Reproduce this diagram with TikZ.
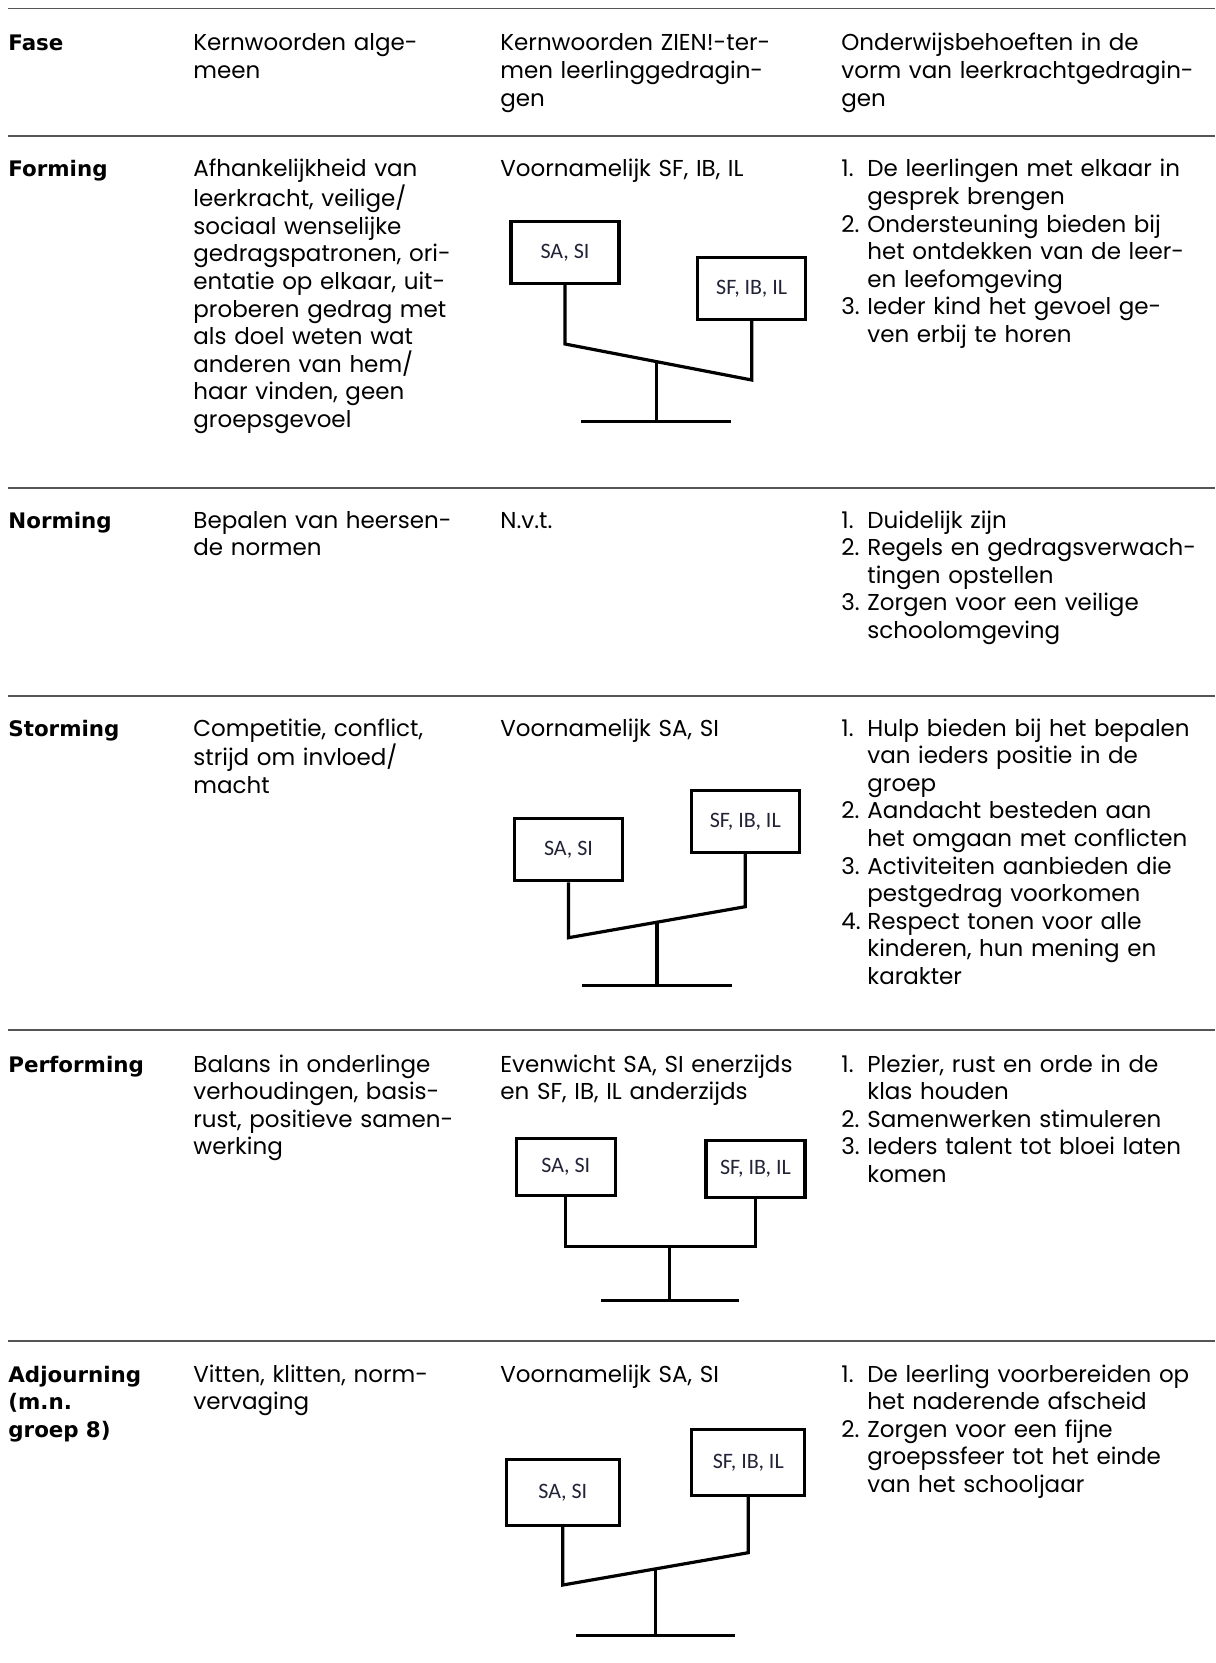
\documentclass[tikz,border=0pt]{standalone}
\usepackage{fontspec}
\setmainfont{Poppins}
\newfontfamily\kopfont{DejaVu Sans}
\newfontfamily\bakfont{Carlito}
\usetikzlibrary{calc}
\definecolor{lijngrijs}{RGB}{85,85,85}
\definecolor{bakinkt}{RGB}{35,35,55}
\newcommand{\nr}[1]{\makebox[13pt][l]{#1.}}
\newcommand{\ins}{\hspace*{13pt}}

\begin{document}
\begin{tikzpicture}[x=0.5pt, y=-0.5pt,
    regel/.style={lijngrijs, line width=0.8pt},
    fasetekst/.style={anchor=base west, inner sep=0pt, text width=90pt, align=left, font=\kopfont\bfseries\fontsize{10.7}{13.8}\selectfont},
    celtekst/.style={anchor=base west, inner sep=0pt, text width=185pt, align=left, font=\fontsize{11.5}{13.8}\selectfont},
    bak/.style={draw, line width=1.6pt, fill=white, inner sep=0pt, minimum width=54pt, minimum height=31pt, font=\bakfont\fontsize{11}{13}\selectfont, text=bakinkt},
    balk/.style={line width=1.6pt}]
    \useasboundingbox (0,0) rectangle (1215,1663);
    \foreach \y in {8.5,136,488,696,1030,1341}
        \draw[regel] (8,\y) -- (1215,\y);

    \node[fasetekst] (fase) at (8,51) {Fase};
    \node[celtekst] (kop2) at (193,51) {Kernwoorden alge-\\meen};
    \node[celtekst] (kop3) at (500,51) {Kernwoorden ZIEN!-ter-\\men leerlinggedragin-\\gen};
    \node[celtekst] (kop4) at (841,51) {Onderwijsbehoeften in de\\vorm van leerkrachtgedragin-\\gen};

    \node[fasetekst] (forming) at (8,177) {Forming};
    \node[celtekst] (forming2) at (193,177) {Afhankelijkheid van\\leerkracht, veilige/\\sociaal wenselijke\\gedragspatronen, ori-\\entatie op elkaar, uit-\\proberen gedrag met\\als doel weten wat\\anderen van hem/\\haar vinden, geen\\groepsgevoel};
    \node[celtekst] (forming3) at (500,177) {Voornamelijk SF, IB, IL};
    \node[celtekst] (forming4) at (841,177) {\nr{1}De leerlingen met elkaar in\\\ins gesprek brengen\\\nr{2}Ondersteuning bieden bij\\\ins het ontdekken van de leer-\\\ins en leefomgeving\\\nr{3}Ieder kind het gevoel ge-\\\ins ven erbij te horen};

    \node[fasetekst] (norming) at (8,528) {Norming};
    \node[celtekst] (norming2) at (193,528) {Bepalen van heersen-\\de normen};
    \node[celtekst] (norming3) at (500,528) {N.v.t.};
    \node[celtekst] (norming4) at (841,528) {\nr{1}Duidelijk zijn\\\nr{2}Regels en gedragsverwach-\\\ins tingen opstellen\\\nr{3}Zorgen voor een veilige\\\ins schoolomgeving};

    \node[fasetekst] (storming) at (8,736) {Storming};
    \node[celtekst] (storming2) at (193,736) {Competitie, conflict,\\strijd om invloed/\\macht};
    \node[celtekst] (storming3) at (500,736) {Voornamelijk SA, SI};
    \node[celtekst] (storming4) at (841,736) {\nr{1}Hulp bieden bij het bepalen\\\ins van ieders positie in de\\\ins groep\\\nr{2}Aandacht besteden aan\\\ins het omgaan met conflicten\\\nr{3}Activiteiten aanbieden die\\\ins pestgedrag voorkomen\\\nr{4}Respect tonen voor alle\\\ins kinderen, hun mening en\\\ins karakter};

    \node[fasetekst] (performing) at (8,1072) {Performing};
    \node[celtekst] (performing2) at (193,1072) {Balans in onderlinge\\verhoudingen, basis-\\rust, positieve samen-\\werking};
    \node[celtekst] (performing3) at (500,1072) {Evenwicht SA, SI enerzijds\\en SF, IB, IL anderzijds};
    \node[celtekst] (performing4) at (841,1072) {\nr{1}Plezier, rust en orde in de\\\ins klas houden\\\nr{2}Samenwerken stimuleren\\\nr{3}Ieders talent tot bloei laten\\\ins komen};

    \node[fasetekst] (adjourning) at (8,1382) {Adjourning\\(m.n.\\groep 8)};
    \node[celtekst] (adjourning2) at (193,1382) {Vitten, klitten, norm-\\vervaging};
    \node[celtekst] (adjourning3) at (500,1382) {Voornamelijk SA, SI};
    \node[celtekst] (adjourning4) at (841,1382) {\nr{1}De leerling voorbereiden op\\\ins het naderende afscheid\\\nr{2}Zorgen voor een fijne\\\ins groepssfeer tot het einde\\\ins van het schooljaar};

    % weegschaal forming
    \node[bak] (fl) at (565,252.5) {SA, SI};
    \node[bak] (fr) at (751.7,288.3) {SF, IB, IL};
    \coordinate (fa) at (565,344);
    \coordinate (fb) at (751.7,380);
    \draw[balk] (fl.south) -- (fa) -- (fb) -- (fr.south);
    \coordinate (fp) at ($(fa)!0.49!(fb)$);
    \draw[balk] (fp) -- ++(0,60) coordinate (fv);
    \draw[balk] ($(fv)+(-75,0)$) -- ($(fv)+(75,0)$);

    % weegschaal storming
    \node[bak] (sl) at (568.5,849.7) {SA, SI};
    \node[bak] (sr) at (745.3,821.3) {SF, IB, IL};
    \coordinate (sa) at (568.5,937.7);
    \coordinate (sb) at (745.3,906.7);
    \draw[balk] (sl.south) -- (sa) -- (sb) -- (sr.south);
    \coordinate (sp) at ($(sa)!0.5!(sb)$);
    \draw[balk] (sp) -- ++(0,63) coordinate (sv);
    \draw[balk] ($(sv)+(-75,0)$) -- ($(sv)+(75,0)$);

    % weegschaal performing
    \node[bak, minimum width=49.5pt, minimum height=28.5pt] (pl) at (565.8,1167) {SA, SI};
    \node[bak, minimum width=49.5pt, minimum height=28.5pt] (pr) at (755.5,1168.8) {SF, IB, IL};
    \coordinate (pa) at (565.8,1246.7);
    \coordinate (pb) at (755.5,1246.7);
    \draw[balk] (pl.south) -- (pa) -- (pb) -- (pr.south);
    \coordinate (pp) at ($(pa)!0.546!(pb)$);
    \draw[balk] (pp) -- ++(0,54) coordinate (pv);
    \draw[balk] ($(pv)+(-68.6,0)$) -- ($(pv)+(70,0)$);

    % weegschaal adjourning
    \node[bak, minimum width=56.5pt, minimum height=33pt] (al) at (562.8,1492.5) {SA, SI};
    \node[bak, minimum width=56.5pt, minimum height=33pt] (ar) at (748.3,1462.5) {SF, IB, IL};
    \coordinate (aa) at (562.8,1585);
    \coordinate (ab) at (748.3,1552.7);
    \draw[balk] (al.south) -- (aa) -- (ab) -- (ar.south);
    \coordinate (ap) at ($(aa)!0.5!(ab)$);
    \draw[balk] (ap) -- ++(0,67) coordinate (av);
    \draw[balk] ($(av)+(-79.5,0)$) -- ($(av)+(79.5,0)$);
\end{tikzpicture}
\end{document}
